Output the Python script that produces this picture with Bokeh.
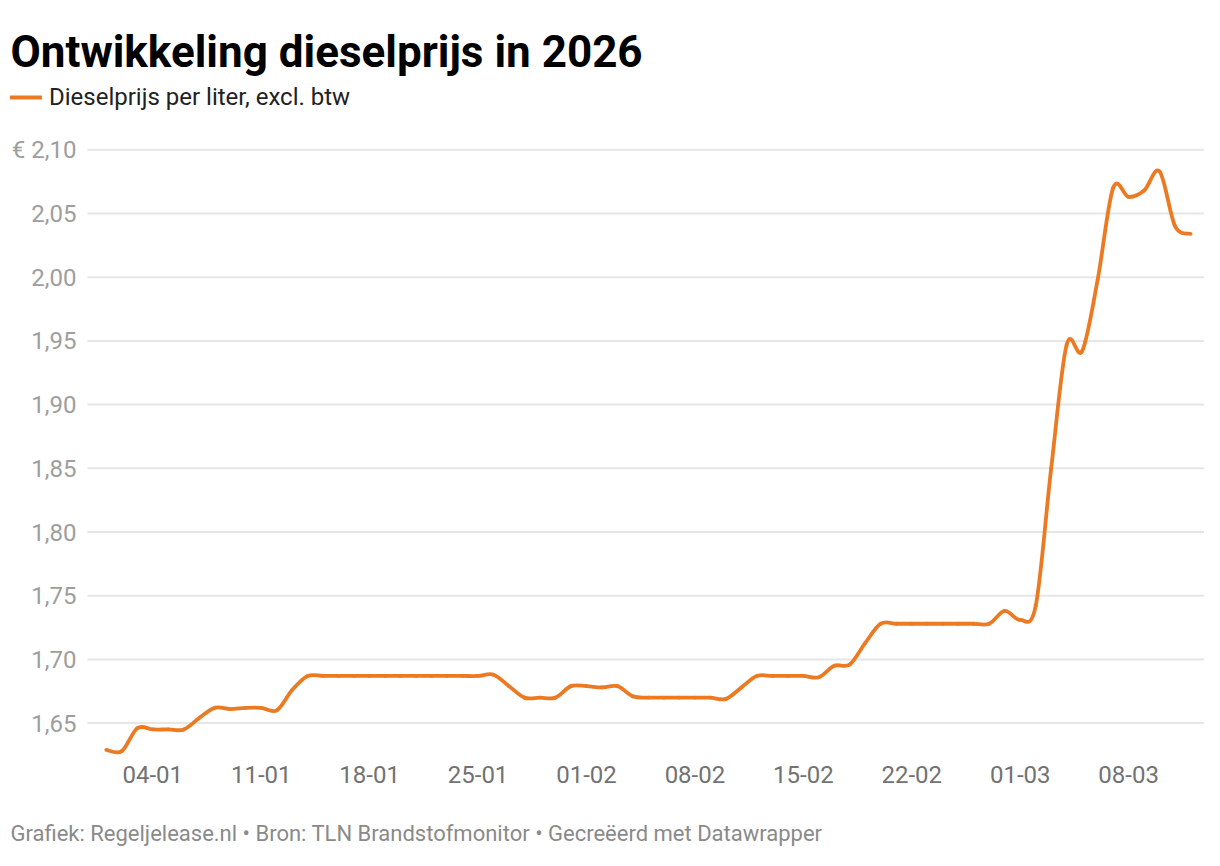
import numpy as np
import pandas as pd
from bokeh.plotting import figure
from bokeh.core.properties import value
from bokeh.models import (Range1d, FixedTicker, DatetimeTickFormatter, Label, LabelSet,
                          Legend, LegendItem, ColumnDataSource)
from bokeh.embed import file_html
from bokeh.resources import INLINE

# ---------------- data ----------------
title_text = "Ontwikkeling dieselprijs in 2026"
series_name = "Dieselprijs per liter, excl. btw"
footer_text = "Grafiek: Regeljelease.nl \u2022 Bron: TLN Brandstofmonitor \u2022 Gecre\u00eberd met Datawrapper"

dates = pd.date_range("2026-01-01", "2026-03-12", freq="D")
prices = [
    1.629, 1.628, 1.646, 1.645, 1.645, 1.645, 1.654, 1.662, 1.661, 1.662,   # 01-01 .. 10-01
    1.662, 1.660, 1.676, 1.687, 1.687, 1.687, 1.687, 1.687, 1.687, 1.687,   # 11-01 .. 20-01
    1.687, 1.687, 1.687, 1.687, 1.687, 1.688, 1.679, 1.670, 1.670, 1.670,   # 21-01 .. 30-01
    1.679, 1.679, 1.678, 1.679, 1.671, 1.670, 1.670, 1.670, 1.670, 1.670,   # 31-01 .. 09-02
    1.669, 1.678, 1.687, 1.687, 1.687, 1.687, 1.686, 1.695, 1.696, 1.713,   # 10-02 .. 19-02
    1.728, 1.728, 1.728, 1.728, 1.728, 1.728, 1.728, 1.728, 1.738, 1.731,   # 20-02 .. 01-03
    1.742, 1.850, 1.947, 1.942, 1.998, 2.070, 2.063, 2.068, 2.083, 2.040,   # 02-03 .. 11-03
    2.034,                                                                   # 12-03
]
tick_dates = ["2026-01-04", "2026-01-11", "2026-01-18", "2026-01-25", "2026-02-01",
              "2026-02-08", "2026-02-15", "2026-02-22", "2026-03-01", "2026-03-08"]
y_ticks = [1.65, 1.70, 1.75, 1.80, 1.85, 1.90, 1.95, 2.00, 2.05, 2.10]
y_tick_labels = ["1,65", "1,70", "1,75", "1,80", "1,85", "1,90", "1,95", "2,00", "2,05", "\u20ac 2,10"]

# ---------------- layout / styling ----------------
LINE_COLOR = "#ec7a22"
FONT = "Roboto"
W, H = 1204, 850
AXIS_Y_PX = 760             # canvas y where the x axis sits (bottom of the plotting area)
GRID_LEFT = 87              # canvas x where the grid lines start
PX_PER_DAY = 15.49
FIRST_X = 105.8             # canvas x of the first date
PX_PER_UNIT = 63.7 / 0.05   # pixels per euro
Y_TOP_TICK_PX = 149.3       # canvas y of the 2,10 grid line

x_ms = dates.asi8 / 1e6
y = np.array(prices, dtype=float)
day = 86400000.0
x_start = x_ms[0] - FIRST_X / PX_PER_DAY * day
x_end = x_ms[0] + (W - FIRST_X) / PX_PER_DAY * day
y_end = y_ticks[-1] + Y_TOP_TICK_PX / PX_PER_UNIT
y_start = y_ticks[-1] - (H - Y_TOP_TICK_PX) / PX_PER_UNIT
y_axis_pos = y_ticks[-1] - (AXIS_Y_PX - Y_TOP_TICK_PX) / PX_PER_UNIT
x_grid_start = x_start + GRID_LEFT / PX_PER_DAY * day

p = figure(width=W, height=H, output_backend="svg", toolbar_location=None,
           x_axis_type="datetime", y_axis_location=None,
           x_range=Range1d(x_start, x_end), y_range=Range1d(y_start, y_end),
           min_border_left=0, min_border_right=0, min_border_top=0, min_border_bottom=0)
p.outline_line_color = None
p.background_fill_color = "white"
p.border_fill_color = "white"
p.grid.visible = False

# horizontal grid lines at the y ticks
p.segment(x0=x_grid_start, x1=x_end, y0=y_ticks, y1=y_ticks,
          line_color="#e6e6e6", line_width=2, level="underlay")

# y tick labels
ylab_src = ColumnDataSource(dict(y=y_ticks, text=y_tick_labels))
p.add_layout(LabelSet(x=76, x_units="screen", y="y", text="text", source=ylab_src,
                      text_align="right", text_baseline="middle", text_font=value(FONT),
                      text_font_size=value("24px"), text_color=value("#9e9e9e")))

# smooth curve: Catmull-Rom segments drawn as Bezier curves through the data
xp = np.concatenate([[x_ms[0]], x_ms, [x_ms[-1]]])
yp = np.concatenate([[y[0]], y, [y[-1]]])
n = len(x_ms)
i = np.arange(1, n)
src = ColumnDataSource(dict(
    x0=xp[i], y0=yp[i], x1=xp[i + 1], y1=yp[i + 1],
    cx0=xp[i] + (xp[i + 1] - xp[i - 1]) / 6.0,
    cy0=yp[i] + (yp[i + 1] - yp[i - 1]) / 6.0,
    cx1=xp[i + 1] - (xp[i + 2] - xp[i]) / 6.0,
    cy1=yp[i + 1] - (yp[i + 2] - yp[i]) / 6.0,
))
r = p.bezier(x0="x0", y0="y0", x1="x1", y1="y1", cx0="cx0", cy0="cy0", cx1="cx1", cy1="cy1",
             source=src, line_color=LINE_COLOR, line_width=3.8, line_cap="round")

# x axis, fixed at the bottom of the plotting area
ax = p.xaxis[0]
ax.fixed_location = y_axis_pos
ax.ticker = FixedTicker(ticks=[pd.Timestamp(d).value / 1e6 for d in tick_dates])
ax.formatter = DatetimeTickFormatter(days="%d-%m", months="%d-%m", hours="%d-%m",
                                     years="%d-%m", context=None)
ax.axis_line_color = None
ax.major_tick_line_color = None
ax.minor_tick_line_color = None
ax.major_tick_out = 0
ax.major_tick_in = 0
ax.minor_tick_out = 0
ax.major_label_text_font = FONT
ax.major_label_text_font_size = "24px"
ax.major_label_text_color = "#727272"
ax.major_label_standoff = 5

# title
p.add_layout(Label(x=10, y=H - 51, x_units="screen", y_units="screen",
                   text=title_text, text_font=FONT, text_font_style="bold",
                   text_font_size="44px", text_color="#000000", text_baseline="alphabetic"))

# legend
legend = Legend(items=[LegendItem(label=series_name, renderers=[r])],
                location=(10, H - 111),
                orientation="horizontal", border_line_color=None, background_fill_alpha=0,
                label_text_font=FONT, label_text_font_size="24px", label_text_color="#222222",
                glyph_width=32, glyph_height=26, padding=0, margin=0, label_standoff=7,
                spacing=0, label_height=26)
p.add_layout(legend)

# footer (kept fully inside the canvas)
p.add_layout(Label(x=10, y=5, x_units="screen", y_units="screen",
                   text=footer_text, text_font=FONT, text_font_size="22px",
                   text_color="#8a8a8a", text_baseline="bottom"))

open("out.html", "w").write(file_html(p, INLINE))
